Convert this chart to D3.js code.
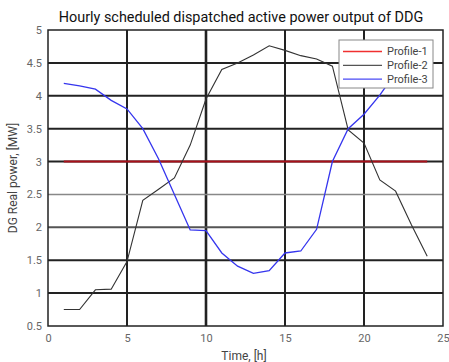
<!DOCTYPE html>
<html>
<head>
<meta charset="utf-8">
<script src="https://cdn.jsdelivr.net/npm/d3@7"></script>
<style>
  body { margin: 0; background: #fff; }
  text { font-family: Roboto, "Liberation Sans", sans-serif; }
</style>
</head>
<body>
<script>
/*data*/
const hours = [1, 2, 3, 4, 5, 6, 7, 8, 9, 10, 11, 12, 13, 14, 15, 16, 17, 18, 19, 20, 21, 22, 23, 24];
const profile1 = [3, 3, 3, 3, 3, 3, 3, 3, 3, 3, 3, 3, 3, 3, 3, 3, 3, 3, 3, 3, 3, 3, 3, 3];
const profile2 = [0.75, 0.75, 1.05, 1.06, 1.48, 2.41, 2.58, 2.75, 3.25, 3.95, 4.40, 4.50, 4.62, 4.76, 4.69, 4.61, 4.56, 4.45, 3.48, 3.28, 2.72, 2.55, 2.04, 1.56];
const profile3 = [4.19, 4.15, 4.10, 3.93, 3.80, 3.50, 3.04, 2.50, 1.96, 1.95, 1.61, 1.41, 1.30, 1.34, 1.61, 1.64, 1.97, 3.00, 3.50, 3.72, 4.01, 4.35, 4.55, 4.65];
const seriesNames = ['Profile-1', 'Profile-2', 'Profile-3'];
const seriesColors = ['#a8101a', '#333333', '#3535ee'];
const legendColors = ['#f03030', '#555555', '#4a4af5'];
const xTicks = [0, 5, 10, 15, 20, 25];
const yTicks = [0.5, 1, 1.5, 2, 2.5, 3, 3.5, 4, 4.5, 5];

/*canvas size*/
const width = 449;
const height = 362;
const padding = { top: 30, bottom: 36, left: 48, right: 6 };

const svg = d3.select('body')
  .append('svg')
  .attr('width', width)
  .attr('height', height);

/*scales*/
const xScale = d3.scaleLinear()
  .domain([0, 25])
  .range([padding.left, width - padding.right]);
const yScale = d3.scaleLinear()
  .domain([0.5, 5])
  .range([height - padding.bottom, padding.top]);

/*grid*/
const grid = svg.append('g').attr('class', 'grid');
grid.selectAll('line.v').data(xTicks.slice(1, -1)).enter().append('line')
  .attr('x1', d => xScale(d)).attr('x2', d => xScale(d))
  .attr('y1', yScale(5)).attr('y2', yScale(0.5))
  .attr('stroke', '#222').attr('stroke-width', d => d === 10 ? 2.6 : 2);
grid.selectAll('line.h').data(yTicks.slice(1, -1)).enter().append('line')
  .attr('x1', xScale(0)).attr('x2', xScale(25))
  .attr('y1', d => yScale(d)).attr('y2', d => yScale(d))
  .attr('stroke', d => d === 2.5 ? '#888' : (d === 2 ? '#555' : '#222'))
  .attr('stroke-width', d => d === 2.5 ? 1.5 : 2);

/*axes*/
const xAxis = svg.append('g')
  .attr('transform', 'translate(0,' + (height - padding.bottom) + ')')
  .call(d3.axisBottom(xScale).tickValues(xTicks).tickSize(0).tickPadding(8));
const yAxis = svg.append('g')
  .attr('transform', 'translate(' + padding.left + ',0)')
  .call(d3.axisLeft(yScale).tickValues(yTicks).tickSize(0).tickPadding(6)
    .tickFormat(d => String(d)));
[xAxis, yAxis].forEach(a => {
  a.select('.domain').remove();
  a.selectAll('text').attr('fill', '#666').attr('font-size', 11)
    .attr('font-family', 'Roboto, sans-serif');
});

/*lines*/
const series = [profile1, profile2, profile3];
const line = d3.line()
  .x((d, i) => xScale(hours[i]))
  .y(d => yScale(d));
svg.append('g').selectAll('path').data(series).enter().append('path')
  .attr('fill', 'none')
  .attr('stroke', (d, i) => seriesColors[i])
  .attr('stroke-width', (d, i) => i === 0 ? 2 : (i === 1 ? 1.1 : 1.3))
  .attr('d', line);

/*frame*/
svg.append('rect')
  .attr('x', xScale(0)).attr('y', yScale(5))
  .attr('width', xScale(25) - xScale(0))
  .attr('height', yScale(0.5) - yScale(5))
  .attr('fill', 'none').attr('stroke', '#222').attr('stroke-width', 1.5);

/*legend*/
const legend = svg.append('g').attr('transform', 'translate(339,40)');
legend.append('rect').attr('width', 94).attr('height', 48)
  .attr('fill', '#fff').attr('stroke', '#888').attr('stroke-width', 1);
seriesNames.forEach((name, i) => {
  const y = 11.5 + i * 13.8;
  legend.append('line').attr('x1', 4).attr('x2', 43).attr('y1', y).attr('y2', y)
    .attr('stroke', legendColors[i]).attr('stroke-width', 1.3);
  legend.append('text').attr('x', 48).attr('y', y).attr('dy', '0.35em')
    .attr('font-size', 11).attr('fill', '#444').text(name);
});

/*title*/
svg.append('text').attr('x', 241).attr('y', 22)
  .attr('text-anchor', 'middle').attr('font-size', 14.4)
  .attr('font-family', '"Liberation Sans", Arial, sans-serif')
  .attr('fill', '#111')
  .text('Hourly scheduled dispatched active power output of DDG');
/*x title*/
svg.append('text').attr('x', 244).attr('y', 360)
  .attr('text-anchor', 'middle').attr('font-size', 12).attr('fill', '#444')
  .text('Time, [h]');
/*y title*/
svg.append('text')
  .attr('transform', 'translate(17,' + ((yScale(5) + yScale(0.5)) / 2) + ') rotate(-90)')
  .attr('text-anchor', 'middle').attr('font-size', 12).attr('fill', '#444')
  .text('DG Real power, [MW]');
</script>
</body>
</html>
